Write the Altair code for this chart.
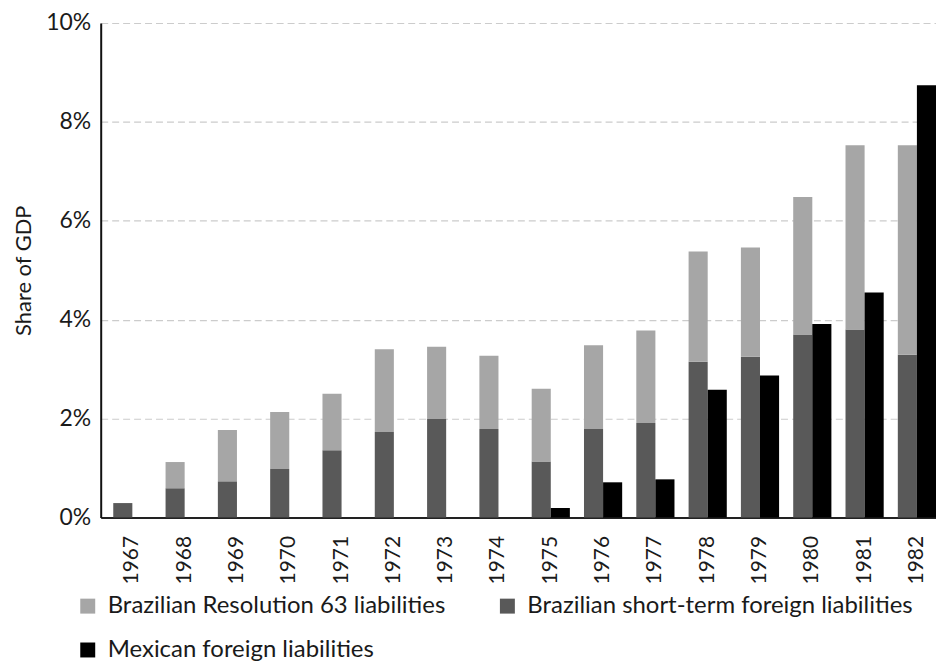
import altair as alt
import pandas as pd

years = [str(y) for y in range(1967, 1983)]
short_term = [0.29, 0.59, 0.73, 0.98, 1.36, 1.73, 1.99, 1.79, 1.13, 1.79, 1.91, 3.15, 3.25, 3.70, 3.80, 3.29]
res63 = [0.0, 0.53, 1.04, 1.15, 1.14, 1.67, 1.46, 1.48, 1.47, 1.69, 1.87, 2.23, 2.21, 2.78, 3.73, 4.24]
mexico = [0.0, 0.0, 0.0, 0.0, 0.0, 0.0, 0.0, 0.0, 0.19, 0.71, 0.77, 2.58, 2.87, 3.91, 4.55, 8.74]

S_RES = "Brazilian Resolution 63 liabilities"
S_ST = "Brazilian short-term foreign liabilities"
S_MX = "Mexican foreign liabilities"

rows = []
for i, y in enumerate(years):
    rows.append({"year": y, "group": "Brazil", "series": S_ST, "value": short_term[i], "ord": 0})
    rows.append({"year": y, "group": "Brazil", "series": S_RES, "value": res63[i], "ord": 1})
    rows.append({"year": y, "group": "Mexico", "series": S_MX, "value": mexico[i], "ord": 0})
df = pd.DataFrame(rows)

FONT = "Lato"
TXT = "#1a1a1a"

chart = alt.Chart(df).mark_bar().encode(
    x=alt.X("year:N", sort=years,
            scale=alt.Scale(paddingInner=0.27, paddingOuter=0.12, align=1),
            axis=alt.Axis(title=None, labelAngle=-90, labelFontSize=21, labelColor=TXT,
                          ticks=False, domainColor="#222", domainWidth=2, labelPadding=18,
                          labelFont=FONT, labelBaseline="middle")),
    xOffset=alt.XOffset("group:N", sort=["Brazil", "Mexico"], scale=alt.Scale(paddingInner=0, paddingOuter=0)),
    y=alt.Y("value:Q", stack="zero",
            scale=alt.Scale(domain=[0, 10], nice=False),
            axis=alt.Axis(title="Share of GDP", values=[0, 2, 4, 6, 8, 10],
                          labelExpr="datum.value + '%'", labelFontSize=23, labelColor=TXT,
                          titleFontSize=22, titleFontWeight="normal", titleColor=TXT,
                          titlePadding=10, labelPadding=10, labelFont=FONT, titleFont=FONT,
                          ticks=False, domainColor="#111", domainWidth=2,
                          gridDash=[7, 4], gridColor="#cccccc", gridWidth=1.2)),
    color=alt.Color("series:N",
                    scale=alt.Scale(domain=[S_RES, S_ST, S_MX], range=["#a6a6a6", "#595959", "#000000"]),
                    legend=alt.Legend(title=None, orient="none", legendX=-25, legendY=573,
                                      direction="horizontal", columns=2, symbolType="square",
                                      symbolSize=225, symbolStrokeWidth=0, labelFontSize=24,
                                      labelFont=FONT, labelColor=TXT, labelLimit=600,
                                      labelOffset=8, columnPadding=50, rowPadding=20)),
    order=alt.Order("ord:Q"),
).properties(
    width=838, height=496,
    padding={"left": 4, "top": 3, "right": 0, "bottom": 0},
).configure_view(stroke=None).configure_axisX(grid=False)

chart.save("out.html", embed_options={"renderer": "svg", "actions": False})
